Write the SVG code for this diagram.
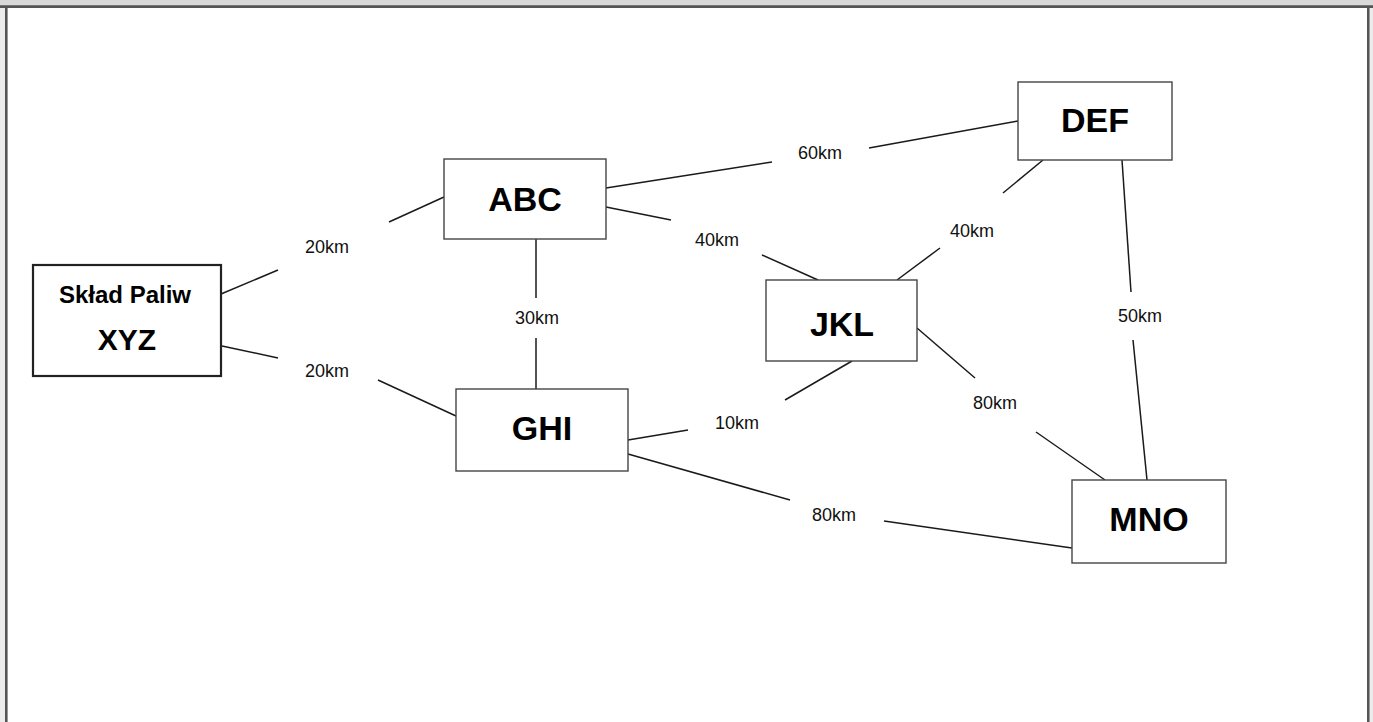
<svg xmlns="http://www.w3.org/2000/svg" width="1373" height="722" viewBox="0 0 1373 722">
<style>
.node{fill:#fff;stroke:#454545;stroke-width:1.4}
.big{font-family:"Liberation Sans",Arial,sans-serif;font-weight:bold;font-size:34px;fill:#000;text-anchor:middle}
.lbl{font-family:"Liberation Sans",Arial,sans-serif;font-size:18px;fill:#111;text-anchor:middle}
.conn line{stroke:#1a1a1a;stroke-width:1.5}
</style>
<rect x="0" y="0" width="1373" height="722" fill="#fff"/>
<rect x="0" y="0" width="1373" height="6" fill="#d9d9d9"/>
<rect x="0" y="6" width="5" height="716" fill="#ececec"/>
<rect x="1370" y="6" width="3" height="716" fill="#ececec"/>
<g id="frame" stroke="#555" stroke-width="2.6" fill="none">
<line x1="0" y1="6.6" x2="1373" y2="6.6"/>
<line x1="6.3" y1="6" x2="6.3" y2="722"/>
<line x1="1368.3" y1="6" x2="1368.3" y2="722"/>
</g>
<g id="connectors" class="conn">
<line x1="221" y1="294" x2="278" y2="270"/>
<line x1="389" y1="222" x2="444" y2="197"/>
<line x1="222" y1="346" x2="278" y2="358"/>
<line x1="378" y1="380" x2="456" y2="416"/>
<line x1="606" y1="188" x2="772" y2="162"/>
<line x1="869" y1="148" x2="1018" y2="121"/>
<line x1="606" y1="207" x2="671" y2="220"/>
<line x1="762" y1="255" x2="818" y2="280"/>
<line x1="536" y1="239" x2="536" y2="298"/>
<line x1="536" y1="338" x2="536" y2="389"/>
<line x1="852" y1="361" x2="785" y2="400"/>
<line x1="688" y1="430" x2="628" y2="440"/>
<line x1="628" y1="454" x2="790" y2="500"/>
<line x1="884" y1="521" x2="1072" y2="548"/>
<line x1="1043" y1="160" x2="1003" y2="193"/>
<line x1="940" y1="248" x2="897" y2="280"/>
<line x1="1122" y1="160" x2="1131" y2="292"/>
<line x1="1133" y1="340" x2="1147" y2="480"/>
<line x1="917" y1="328" x2="975" y2="378"/>
<line x1="1036" y1="432" x2="1105" y2="480"/>
</g>
<g id="labels">
<text class="lbl" x="327" y="253">20km</text>
<text class="lbl" x="327" y="377">20km</text>
<text class="lbl" x="537" y="324">30km</text>
<text class="lbl" x="820" y="159">60km</text>
<text class="lbl" x="717" y="246">40km</text>
<text class="lbl" x="972" y="237">40km</text>
<text class="lbl" x="1140" y="322">50km</text>
<text class="lbl" x="737" y="429">10km</text>
<text class="lbl" x="995" y="409">80km</text>
<text class="lbl" x="834" y="521">80km</text>
</g>
<g id="node-xyz">
<rect x="33" y="265" width="188" height="111" fill="#fff" stroke="#222" stroke-width="2.2"/>
<text x="125" y="303" font-family="Liberation Sans,Arial,sans-serif" font-weight="bold" font-size="24" text-anchor="middle">Skład Paliw</text>
<text x="127" y="350" font-family="Liberation Sans,Arial,sans-serif" font-weight="bold" font-size="30" text-anchor="middle">XYZ</text>
</g>
<g id="node-abc">
<rect class="node" x="444" y="159" width="162" height="80"/>
<text class="big" x="525" y="211">ABC</text>
</g>
<g id="node-def">
<rect class="node" x="1018" y="82" width="154" height="78"/>
<text class="big" x="1095" y="132">DEF</text>
</g>
<g id="node-jkl">
<rect class="node" x="766" y="280" width="151" height="81"/>
<text class="big" x="842" y="336">JKL</text>
</g>
<g id="node-ghi">
<rect class="node" x="456" y="389" width="172" height="82"/>
<text class="big" x="542" y="440">GHI</text>
</g>
<g id="node-mno">
<rect class="node" x="1072" y="480" width="154" height="83"/>
<text class="big" x="1149" y="531">MNO</text>
</g>
</svg>
